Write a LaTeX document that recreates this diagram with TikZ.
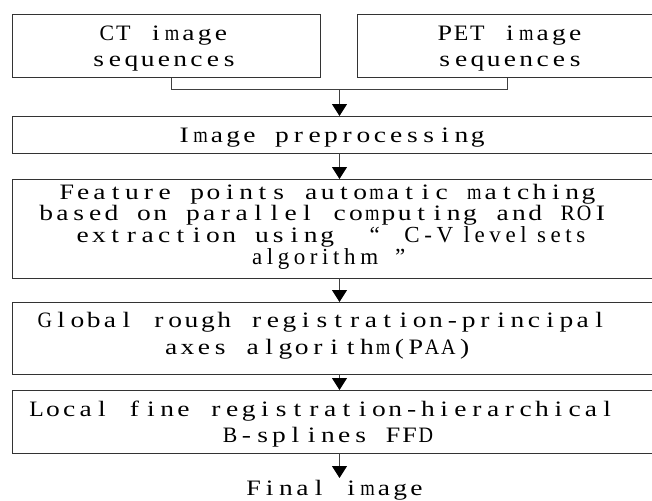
\documentclass[tikz,border=0pt]{standalone}
\usepackage{fontspec}
\usetikzlibrary{arrows.meta}
\setmainfont{Liberation Serif}
\newfontfamily\serfnt[LetterSpace=20]{Liberation Serif}
\newcommand\serpart{\fontsize{23}{27}\serfnt}
\ExplSyntaxOn
\dim_new:N \l_mycell_dim
\dim_set:Nn \l_mycell_dim {16.3pt}
\box_new:N \l_myglyph_box
\fp_new:N \l_myfac_fp
\cs_new_protected:Npn \my_cell:n #1
 {
  \hbox_set:Nn \l_myglyph_box {#1}
  \dim_compare:nNnTF { \box_wd:N \l_myglyph_box } > { 0.5pt }
   { \fp_set:Nn \l_myfac_fp { min(1.25, 14.5 / \dim_to_fp:n { \box_wd:N \l_myglyph_box }) } }
   { \fp_set:Nn \l_myfac_fp {1} }
  \box_scale:Nnn \l_myglyph_box { \fp_use:N \l_myfac_fp } { 1 }
  \makebox[\l_mycell_dim]{\box_use:N \l_myglyph_box}
 }
\NewDocumentCommand\cells{m}{\str_map_inline:nn {#1} {\my_cell:n {##1}}}
\ExplSyntaxOff
\begin{document}
\begin{tikzpicture}[x=1pt,y=-1pt,
  box/.style={draw=black!80, line width=1pt, inner sep=0pt, outer sep=0pt, anchor=north west},
  ctr/.style={inner sep=0pt, outer sep=0pt, anchor=base, font=\fontsize{22}{25}\selectfont},
  lft/.style={inner sep=0pt, outer sep=0pt, anchor=base west, font=\fontsize{22}{25}\selectfont},
  conn/.style={draw=black!75, line width=1pt},
  arr/.style={draw=black!75, line width=1pt, -{Triangle[width=15pt,length=12pt,fill=black,color=black]}}]
\useasboundingbox (0,0) rectangle (652,500);
\fill[white] (0,0) rectangle (652,500);
% boxes
\node[box, minimum width=308pt, minimum height=63pt] (ct) at (12,15) {};
\node[box, minimum width=310pt, minimum height=63pt] (pet) at (357,15) {};
\node[box, minimum width=655pt, minimum height=37pt] (pre) at (12,116) {};
\node[box, minimum width=655pt, minimum height=99pt] (feat) at (12,179) {};
\node[box, minimum width=655pt, minimum height=72pt] (glob) at (12,302) {};
\node[box, minimum width=655pt, minimum height=63pt] (loc) at (12,390) {};
% texts
\node[ctr] (ct1) at (164,41) {\cells{CT image}};
\node[ctr] (ct2) at (164,67) {\cells{sequences}};
\node[ctr] (pet1) at (510,41) {\cells{PET image}};
\node[ctr] (pet2) at (510,67) {\cells{sequences}};
\node[ctr] (pre1) at (331,142) {\cells{Image preprocessing}};
\node[lft] (f1) at (58.7,199) {\cells{Feature points automatic matching}};
\node[lft] (f2) at (38.1,220.7) {\cells{based on parallel computing and ROI}};
\node[lft] (f3) at (74.5,242.4) {\makebox[0pt][l]{\cells{extraction using}}\hspace{295pt}\makebox[0pt][l]{\serpart “}\hspace{35pt}{\serpart C-V level sets}};
\node[lft] (f4) at (252,264.1) {\makebox[0pt][l]{\serpart algorithm}\hspace{143pt}{\serpart ”}};
\node[ctr] (g1) at (322,327) {\cells{Global rough registration-principal}};
\node[ctr] (g2) at (318,354) {\cells{axes algorithm(PAA)}};
\node[ctr] (l1) at (322,416) {\cells{Local fine registration-hierarchical}};
\node[ctr] (l2) at (328,442) {\cells{B-splines FFD}};
\node[ctr] (fin) at (335,495) {\cells{Final image}};
% connectors
\coordinate (jl) at (171,90);
\coordinate (jr) at (507,90);
\coordinate (jm) at (339.5,90);
\coordinate (tip) at (339.5,478);
\draw[conn] (ct.south -| jl) -- (jl) -- (jr) -- (pet.south -| jr);
\draw[arr] (jm) -- (pre.north);
\draw[arr] (pre.south) -- (feat.north);
\draw[arr] (feat.south) -- (glob.north);
\draw[arr] (glob.south) -- (loc.north);
\draw[arr] (loc.south) -- (tip);
\end{tikzpicture}
\end{document}
